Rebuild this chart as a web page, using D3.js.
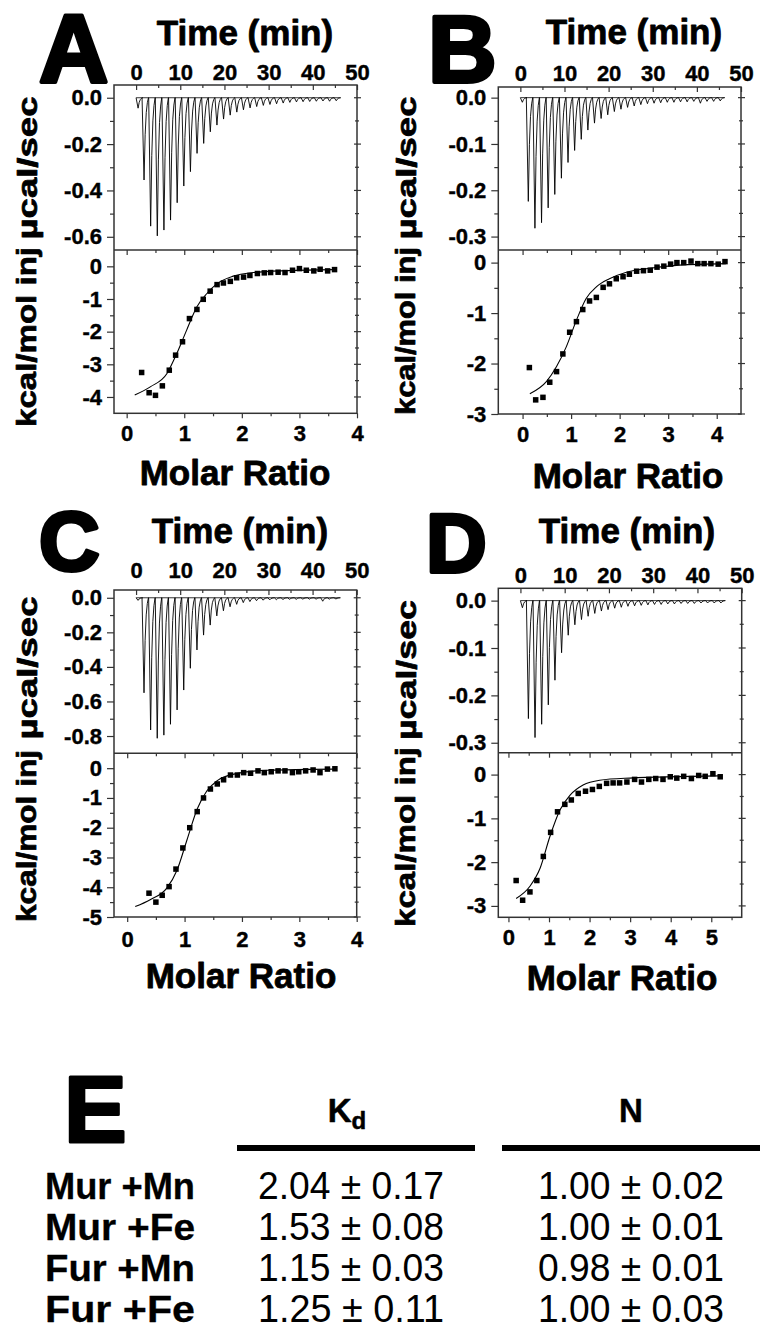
<!DOCTYPE html>
<html><head><meta charset="utf-8">
<script src="https://cdn.jsdelivr.net/npm/d3@7"></script>
<style>
body{margin:0;background:#fff}
svg{display:block}
text{font-family:"Liberation Sans",Arial,Helvetica,sans-serif}
</style>
</head><body>
<svg id="c" width="760" height="1339"></svg>
<script>
// ---------------- DATA ----------------
const panelLetters = ["A", "B", "C", "D"];
const timeTicks = [0, 10, 20, 30, 40, 50];
const timeMinor = [5, 15, 25, 35, 45];
const injTimes = [0.0, 1.35, 2.85, 4.35, 5.85, 7.35, 8.85, 10.35, 11.85, 13.35, 14.85, 16.35, 17.85, 19.35, 20.85, 22.35, 23.85, 25.35, 26.85, 28.35, 29.85, 31.35, 32.85, 34.35, 35.85, 37.35, 38.85, 40.35, 41.85, 43.35, 44.85];
const runEnd = 46.3;
// peak minima of each injection (µcal/sec)
const peaksA = [-0.045, -0.355, -0.554, -0.596, -0.571, -0.528, -0.453, -0.381, -0.319, -0.24, -0.197, -0.147, -0.118, -0.092, -0.075, -0.062, -0.052, -0.044, -0.038, -0.033, -0.029, -0.026, -0.023, -0.02, -0.018, -0.017, -0.016, -0.015, -0.014, -0.015, -0.013];
const peaksB = [-0.01, -0.224, -0.282, -0.27, -0.238, -0.209, -0.174, -0.14, -0.114, -0.09, -0.07, -0.055, -0.045, -0.037, -0.03, -0.025, -0.021, -0.018, -0.015, -0.013, -0.012, -0.011, -0.01, -0.01, -0.009, -0.009, -0.008, -0.012, -0.008, -0.008, -0.007];
const peaksC = [-0.015, -0.55, -0.765, -0.813, -0.795, -0.732, -0.649, -0.534, -0.408, -0.302, -0.216, -0.158, -0.105, -0.075, -0.052, -0.038, -0.028, -0.022, -0.017, -0.014, -0.012, -0.011, -0.01, -0.009, -0.009, -0.008, -0.008, -0.008, -0.02, -0.008, -0.007];
const peaksD = [-0.015, -0.249, -0.289, -0.261, -0.22, -0.168, -0.11, -0.073, -0.051, -0.04, -0.033, -0.027, -0.022, -0.019, -0.016, -0.014, -0.012, -0.011, -0.01, -0.009, -0.008, -0.008, -0.007, -0.007, -0.006, -0.006, -0.006, -0.005, -0.005, -0.005, -0.005];
// shape of one injection spike: time offset (min) and fraction of the peak
const spikeOffsets = [0, 0.45, 0.7, 0.95, 1.2, 1.45];
const spikeFractions = [0, 1, 0.45, 0.18, 0.06, 0];

// integrated heats (molar ratio, kcal/mol of injectant)
const ratioA = [0.26, 0.39, 0.50, 0.62, 0.74, 0.85, 0.97, 1.09, 1.22, 1.33, 1.45, 1.57, 1.68, 1.80, 1.91, 2.03, 2.14, 2.27, 2.39, 2.50, 2.63, 2.75, 2.88, 3.00, 3.12, 3.25, 3.36, 3.49, 3.61];
const heatA  = [-3.25, -3.87, -3.95, -3.66, -3.18, -2.72, -2.31, -1.60, -1.32, -1.01, -0.76, -0.56, -0.51, -0.46, -0.35, -0.33, -0.28, -0.22, -0.20, -0.19, -0.18, -0.19, -0.12, -0.07, -0.12, -0.14, -0.09, -0.14, -0.10];
const fitRatioA = [0.14, 0.41, 0.70, 0.87, 1.04, 1.22, 1.39, 1.57, 1.85, 2.2, 2.8, 3.6];
const fitHeatA  = [-3.94, -3.69, -3.28, -2.67, -1.96, -1.24, -0.84, -0.53, -0.30, -0.19, -0.13, -0.10];

const ratioB = [0.14, 0.27, 0.42, 0.56, 0.70, 0.83, 0.97, 1.11, 1.24, 1.38, 1.52, 1.66, 1.79, 1.93, 2.07, 2.20, 2.35, 2.49, 2.63, 2.77, 2.91, 3.05, 3.18, 3.32, 3.47, 3.61, 3.74, 3.88, 4.03, 4.17];
const heatB  = [-2.08, -2.72, -2.67, -2.37, -2.16, -1.81, -1.38, -1.17, -0.93, -0.76, -0.69, -0.49, -0.42, -0.32, -0.28, -0.23, -0.17, -0.16, -0.15, -0.09, -0.07, -0.03, 0.0, 0.0, 0.03, -0.02, -0.02, -0.02, -0.03, 0.02];
const fitRatioB = [0.15, 0.49, 0.70, 0.90, 1.11, 1.31, 1.52, 1.79, 2.14, 2.55, 3.23, 4.19];
const fitHeatB  = [-2.60, -2.36, -2.06, -1.67, -1.14, -0.71, -0.48, -0.32, -0.19, -0.12, -0.05, -0.02];

const ratioC = [0.38, 0.50, 0.61, 0.73, 0.85, 0.97, 1.09, 1.22, 1.33, 1.45, 1.57, 1.68, 1.80, 1.92, 2.03, 2.15, 2.28, 2.39, 2.51, 2.63, 2.75, 2.88, 2.99, 3.11, 3.24, 3.36, 3.49, 3.62];
const heatC  = [-4.20, -4.50, -4.27, -3.98, -3.39, -2.68, -2.00, -1.46, -1.00, -0.70, -0.53, -0.39, -0.23, -0.23, -0.15, -0.17, -0.09, -0.15, -0.12, -0.09, -0.09, -0.15, -0.12, -0.09, -0.06, -0.15, -0.03, -0.02];
const fitRatioC = [0.14, 0.40, 0.69, 0.87, 1.04, 1.22, 1.39, 1.57, 1.86, 2.44, 3.6];
const fitHeatC  = [-4.65, -4.42, -4.03, -3.42, -2.42, -1.37, -0.76, -0.42, -0.20, -0.07, -0.03];

const ratioD = [0.19, 0.35, 0.53, 0.70, 0.86, 1.04, 1.21, 1.39, 1.55, 1.72, 1.90, 2.07, 2.24, 2.42, 2.58, 2.74, 2.92, 3.11, 3.28, 3.46, 3.63, 3.81, 3.99, 4.15, 4.32, 4.51, 4.69, 4.85, 5.04, 5.22];
const heatD  = [-2.42, -2.87, -2.68, -2.42, -1.87, -1.32, -0.85, -0.68, -0.58, -0.43, -0.38, -0.34, -0.27, -0.20, -0.19, -0.19, -0.17, -0.11, -0.17, -0.11, -0.09, -0.11, -0.05, -0.08, -0.04, -0.09, -0.02, -0.04, 0.02, -0.05];
const fitRatioD = [0.19, 0.53, 0.78, 1.02, 1.27, 1.52, 1.84, 2.25, 2.99, 5.2];
const fitHeatD  = [-2.83, -2.55, -2.14, -1.42, -0.81, -0.47, -0.24, -0.13, -0.08, -0.03];

// axis tick values
const thermoTicksA = [0, -0.2, -0.4, -0.6], thermoMinorA = [-0.1, -0.3, -0.5];
const thermoTicksB = [0, -0.1, -0.2, -0.3], thermoMinorB = [-0.05, -0.15, -0.25];
const thermoTicksC = [0, -0.2, -0.4, -0.6, -0.8], thermoMinorC = [-0.1, -0.3, -0.5, -0.7];
const thermoTicksD = [0, -0.1, -0.2, -0.3], thermoMinorD = [-0.05, -0.15, -0.25];
const heatTicksA = [0, -1, -2, -3, -4], heatMinorA = [-0.5, -1.5, -2.5, -3.5];
const heatTicksB = [0, -1, -2, -3], heatMinorB = [-0.5, -1.5, -2.5];
const heatTicksC = [0, -1, -2, -3, -4, -5], heatMinorC = [-0.5, -1.5, -2.5, -3.5, -4.5];
const heatTicksD = [0, -1, -2, -3], heatMinorD = [-0.5, -1.5, -2.5];
const ratioTicks4 = [0, 1, 2, 3, 4], ratioMinor4 = [0.5, 1.5, 2.5, 3.5];
const ratioTicks5 = [0, 1, 2, 3, 4, 5], ratioMinor5 = [0.5, 1.5, 2.5, 3.5, 4.5, 5.5];

// table E
const tableRows = ["Mur +Mn", "Mur +Fe", "Fur +Mn", "Fur +Fe"];
const kdValues = ["2.04 ± 0.17", "1.53 ± 0.08", "1.15 ± 0.03", "1.25 ± 0.11"];
const nValues  = ["1.00 ± 0.02", "1.00 ± 0.01", "0.98 ± 0.01", "1.00 ± 0.03"];

// ---------------- LAYOUT ----------------
const AX = "#333";
const svg = d3.select("#c");

const panels = [
  {letter: panelLetters[0], L: 114, R: 357, T: 85, M: 250, B: 413.3,
   thermoDom: [-0.657, 0.055], heatDom: [-4.5, 0.5], ratioDom: [-0.22, 4],
   peaks: peaksA, ratio: ratioA, heat: heatA, fitR: fitRatioA, fitH: fitHeatA,
   tT: thermoTicksA, tM: thermoMinorA, hT: heatTicksA, hM: heatMinorA, rT: ratioTicks4, rM: ratioMinor4,
   letterX: 39, letterY: 82, letterSize: 96,
   timeTitleX: 245, timeTitleY: 45, timeLabY: 80, ratioLabOff: 28,
   ratioTitleX: 235, ratioTitleY: 485,
   ylabX: 37, ylab1Y: 168, ylab1Len: 143, ylab2Y: 337, ylab2Len: 180},
  {letter: panelLetters[1], L: 498.3, R: 741, T: 87, M: 250, B: 414,
   thermoDom: [-0.329, 0.023], heatDom: [-3, 0.25], ratioDom: [-0.5, 4.5],
   peaks: peaksB, ratio: ratioB, heat: heatB, fitR: fitRatioB, fitH: fitHeatB,
   tT: thermoTicksB, tM: thermoMinorB, hT: heatTicksB, hM: heatMinorB, rT: ratioTicks4, rM: ratioMinor4,
   letterX: 428, letterY: 82, letterSize: 95,
   timeTitleX: 634, timeTitleY: 44, timeLabY: 81, ratioLabOff: 28,
   ratioTitleX: 628, ratioTitleY: 488,
   ylabX: 416, ylab1Y: 168, ylab1Len: 143, ylab2Y: 331, ylab2Len: 168},
  {letter: panelLetters[2], L: 114, R: 356.7, T: 590, M: 753.3, B: 917,
   thermoDom: [-0.9, 0.045], heatDom: [-5, 0.5], ratioDom: [-0.23, 4],
   peaks: peaksC, ratio: ratioC, heat: heatC, fitR: fitRatioC, fitH: fitHeatC,
   tT: thermoTicksC, tM: thermoMinorC, hT: heatTicksC, hM: heatMinorC, rT: ratioTicks4, rM: ratioMinor4,
   letterX: 39, letterY: 570, letterSize: 84,
   timeTitleX: 240, timeTitleY: 543, timeLabY: 578, ratioLabOff: 30,
   ratioTitleX: 241, ratioTitleY: 988,
   ylabX: 37, ylab1Y: 668, ylab1Len: 143, ylab2Y: 836, ylab2Len: 172},
  {letter: panelLetters[3], L: 498.3, R: 741.7, T: 588.3, M: 752.7, B: 917.3,
   thermoDom: [-0.321, 0.026], heatDom: [-3.26, 0.5], ratioDom: [-0.25, 5.75],
   peaks: peaksD, ratio: ratioD, heat: heatD, fitR: fitRatioD, fitH: fitHeatD,
   tT: thermoTicksD, tM: thermoMinorD, hT: heatTicksD, hM: heatMinorD, rT: ratioTicks5, rM: ratioMinor5,
   letterX: 426, letterY: 572, letterSize: 84,
   timeTitleX: 627, timeTitleY: 543, timeLabY: 583, ratioLabOff: 28,
   ratioTitleX: 622, ratioTitleY: 990,
   ylabX: 416, ylab1Y: 670, ylab1Len: 140, ylab2Y: 837, ylab2Len: 180}
];

const fmt1 = v => d3.format(".1f")(v).replace("−", "-");
const fmt0 = v => d3.format("d")(v).replace("−", "-");

function styleAxis(g, size) {
  g.select(".domain").remove();
  g.selectAll(".tick line").attr("stroke", AX).attr("stroke-width", 1.2);
  g.selectAll(".tick text").attr("fill", "#000").attr("font-size", size).attr("font-weight", "bold")
    .attr("stroke", "#000").attr("stroke-width", 0.4)
    .attr("font-family", '"Liberation Sans",Arial,sans-serif');
}

function mirrorTicks(g, vals, scale, x, inn, out) {
  g.selectAll(null).data(vals).join("line")
    .attr("x1", x - inn).attr("x2", x + out)
    .attr("y1", d => scale(d)).attr("y2", d => scale(d))
    .attr("stroke", AX).attr("stroke-width", 1.2);
}

function heavyText(sel, w) {
  return sel.attr("font-weight", "bold").attr("fill", "#000").attr("stroke", "#000")
    .attr("stroke-width", w).attr("stroke-linejoin", "round");
}

panels.forEach(p => {
  const g = svg.append("g");
  const x = d3.scaleLinear().domain([-5, 50]).range([p.L, p.R]);
  const yT = d3.scaleLinear().domain(p.thermoDom).range([p.M, p.T]);
  const xr = d3.scaleLinear().domain(p.ratioDom).range([p.L, p.R]);
  const yH = d3.scaleLinear().domain(p.heatDom).range([p.B, p.M]);

  // ---- thermogram trace ----
  const trace = [];
  injTimes.forEach((t, i) => {
    spikeOffsets.forEach((o, k) => trace.push([t + o, p.peaks[i] * spikeFractions[k]]));
  });
  trace.push([runEnd, 0]);
  g.append("line").attr("x1", x(0)).attr("x2", x(runEnd)).attr("y1", yT(0)).attr("y2", yT(0))
    .attr("stroke", "#000").attr("stroke-width", 0.8);
  g.append("path").datum(trace)
    .attr("d", d3.line().x(d => x(d[0])).y(d => yT(d[1])))
    .attr("fill", "none").attr("stroke", "#000").attr("stroke-width", 0.9).attr("stroke-linejoin", "round");

  // ---- binding isotherm ----
  const fit = p.fitR.map((r, i) => [r, p.fitH[i]]);
  g.append("path").datum(fit)
    .attr("d", d3.line().x(d => xr(d[0])).y(d => yH(d[1])).curve(d3.curveMonotoneX))
    .attr("fill", "none").attr("stroke", "#000").attr("stroke-width", 1.1);
  const s = 5.5;
  g.selectAll(null).data(p.ratio.map((r, i) => [r, p.heat[i]])).join("rect")
    .attr("x", d => xr(d[0]) - s / 2).attr("y", d => yH(d[1]) - s / 2)
    .attr("width", s).attr("height", s).attr("fill", "#000");

  // ---- frames ----
  g.append("rect").attr("x", p.L).attr("y", p.T).attr("width", p.R - p.L).attr("height", p.B - p.T)
    .attr("fill", "none").attr("stroke", AX).attr("stroke-width", 1.5);
  g.append("line").attr("x1", p.L).attr("x2", p.R).attr("y1", p.M).attr("y2", p.M)
    .attr("stroke", AX).attr("stroke-width", 1.5);

  // ---- axes: time (top) ----
  const gt = g.append("g").attr("transform", `translate(0,${p.T})`)
    .call(d3.axisTop(x).tickValues(timeTicks).tickSize(-5).tickPadding(p.T - p.timeLabY).tickFormat(d3.format("d")));
  styleAxis(gt, 22);
  const gtm = g.append("g").attr("transform", `translate(0,${p.T})`)
    .call(d3.axisTop(x).tickValues(timeMinor).tickSize(-3).tickFormat(""));
  styleAxis(gtm, 0);

  // ---- thermogram y axis ----
  const gl = g.append("g").attr("transform", `translate(${p.L},0)`)
    .call(d3.axisLeft(yT).tickValues(p.tT).tickSize(7).tickPadding(5).tickFormat(fmt1));
  styleAxis(gl, 22);
  const glm = g.append("g").attr("transform", `translate(${p.L},0)`)
    .call(d3.axisLeft(yT).tickValues(p.tM).tickSize(4).tickFormat(""));
  styleAxis(glm, 0);
  mirrorTicks(g, p.tT, yT, p.R, 3, 4);
  mirrorTicks(g, p.tM, yT, p.R, 2, 2);

  // ---- isotherm y axis ----
  const gl2 = g.append("g").attr("transform", `translate(${p.L},0)`)
    .call(d3.axisLeft(yH).tickValues(p.hT).tickSize(7).tickPadding(5).tickFormat(fmt0));
  styleAxis(gl2, 22);
  const gl2m = g.append("g").attr("transform", `translate(${p.L},0)`)
    .call(d3.axisLeft(yH).tickValues(p.hM).tickSize(4).tickFormat(""));
  styleAxis(gl2m, 0);
  mirrorTicks(g, p.hT, yH, p.R, 3, 4);
  mirrorTicks(g, p.hM, yH, p.R, 2, 2);

  // ---- molar ratio axis (bottom) ----
  const gb = g.append("g").attr("transform", `translate(0,${p.B})`)
    .call(d3.axisBottom(xr).tickValues(p.rT).tickSize(5).tickPadding(p.ratioLabOff - 5 - 15.5).tickFormat(d3.format("d")));
  styleAxis(gb, 22);
  const gbm = g.append("g").attr("transform", `translate(0,${p.B})`)
    .call(d3.axisBottom(xr).tickValues(p.rM.filter(v => v < p.ratioDom[1])).tickSize(3).tickFormat(""));
  styleAxis(gbm, 0);
  // inward ticks on the shared divider
  const gbt = g.append("g").attr("transform", `translate(0,${p.M})`)
    .call(d3.axisTop(xr).tickValues(p.rT).tickSize(-5).tickFormat(""));
  styleAxis(gbt, 0);
  const gbtm = g.append("g").attr("transform", `translate(0,${p.M})`)
    .call(d3.axisTop(xr).tickValues(p.rM.filter(v => v < p.ratioDom[1])).tickSize(-3).tickFormat(""));
  styleAxis(gbtm, 0);

  // ---- titles ----
  heavyText(g.append("text").attr("x", p.letterX).attr("y", p.letterY).attr("font-size", p.letterSize), 4)
    .text(p.letter);
  heavyText(g.append("text").attr("x", p.timeTitleX).attr("y", p.timeTitleY).attr("text-anchor", "middle")
    .attr("font-size", 35), 0.8).text("Time (min)");
  heavyText(g.append("text").attr("x", p.ratioTitleX).attr("y", p.ratioTitleY).attr("text-anchor", "middle")
    .attr("font-size", 35), 0.8).text("Molar Ratio");
  heavyText(g.append("text").attr("transform", `translate(${p.ylabX},${p.ylab1Y}) rotate(-90)`)
    .attr("text-anchor", "middle").attr("font-size", 28)
    .attr("textLength", p.ylab1Len).attr("lengthAdjust", "spacingAndGlyphs"), 0.7).text("µcal/sec");
  heavyText(g.append("text").attr("transform", `translate(${p.ylabX - 1},${p.ylab2Y}) rotate(-90)`)
    .attr("text-anchor", "middle").attr("font-size", 28)
    .attr("textLength", p.ylab2Len).attr("lengthAdjust", "spacingAndGlyphs"), 0.7).text("kcal/mol inj");
});

// ---------------- TABLE E ----------------
const tg = svg.append("g");
heavyText(tg.append("text").attr("x", 64).attr("y", 1142).attr("font-size", 94), 3).text("E");
const kdHead = heavyText(tg.append("text").attr("x", 347).attr("y", 1122).attr("text-anchor", "middle")
  .attr("font-size", 33), 0.5);
kdHead.append("tspan").text("K");
kdHead.append("tspan").attr("font-size", 24).attr("dy", 7).text("d");
heavyText(tg.append("text").attr("x", 631).attr("y", 1122).attr("text-anchor", "middle")
  .attr("font-size", 33), 0.5).text("N");
tg.append("line").attr("x1", 237).attr("x2", 475).attr("y1", 1148).attr("y2", 1148).attr("stroke", "#000").attr("stroke-width", 6);
tg.append("line").attr("x1", 502).attr("x2", 760).attr("y1", 1148).attr("y2", 1148).attr("stroke", "#000").attr("stroke-width", 6);
const rowY = d3.scalePoint().domain(tableRows).range([1199, 1322]);
tableRows.forEach((r, i) => {
  heavyText(tg.append("text").attr("x", 45).attr("y", rowY(r)).attr("font-size", 36)
    .attr("textLength", 150).attr("lengthAdjust", "spacingAndGlyphs"), 0.3).text(r);
  tg.append("text").attr("x", 351).attr("y", rowY(r)).attr("text-anchor", "middle").attr("font-size", 38)
    .attr("textLength", 186).attr("lengthAdjust", "spacingAndGlyphs").text(kdValues[i]);
  tg.append("text").attr("x", 631).attr("y", rowY(r)).attr("text-anchor", "middle").attr("font-size", 38)
    .attr("textLength", 186).attr("lengthAdjust", "spacingAndGlyphs").text(nValues[i]);
});
</script>
</body></html>
